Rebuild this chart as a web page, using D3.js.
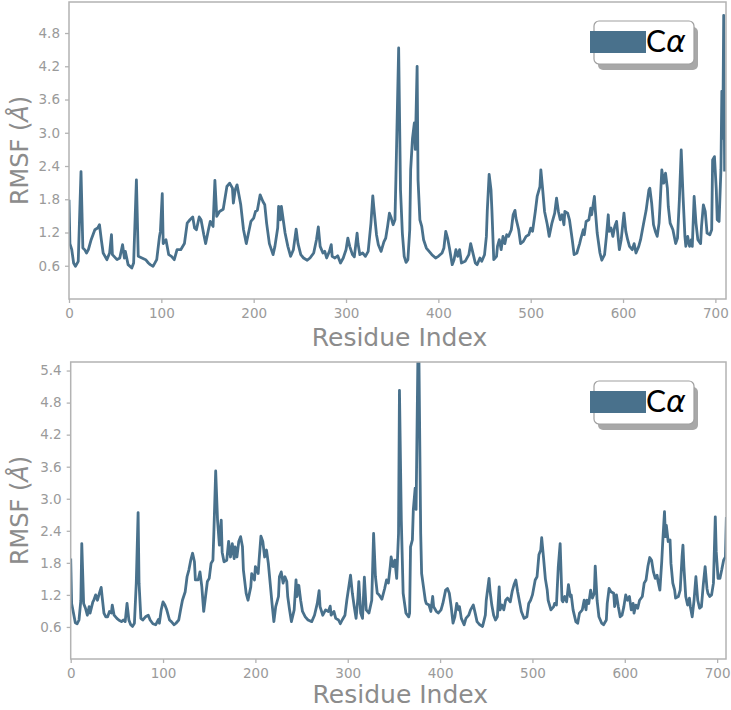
<!DOCTYPE html>
<html>
<head>
<meta charset="utf-8">
<script src="https://cdn.jsdelivr.net/npm/d3@7"></script>
<style>
  body { margin: 0; background: #fff; }
  text { font-family: "DejaVu Sans", sans-serif; }
</style>
</head>
<body>
<div id="chart"></div>
<script>
// top panel: residue index / RMSF (Å)
var topResidue = [0,1,3,5,7,10,13,15,17,19,21,24,28,31,33,35,37,41,44,46,47,52,55,58,60,61,64,68,70,73,75,79,83,86,88,91,95,98,99,101,102,105,108,111,114,117,121,125,128,131,134,136,138,141,143,146,148,151,153,156,158,160,163,167,171,174,177,178,180,182,184,186,189,192,194,197,200,202,204,207,210,212,214,217,221,223,226,227,229,230,232,234,237,240,243,246,248,251,254,258,261,265,268,270,272,275,277,279,282,284,285,288,291,294,297,300,302,304,307,309,312,313,315,318,321,324,327,329,330,333,335,338,341,343,345,347,349,351,353,354,357,359,361,363,365,367,369,370,372,374,375,377,378,380,382,384,387,390,393,397,400,404,406,408,410,412,415,417,419,421,423,425,429,433,435,437,440,442,445,447,450,452,453,455,457,458,460,463,464,466,468,470,472,474,476,479,481,483,484,487,489,492,495,498,500,502,505,507,510,511,513,515,518,520,523,526,528,530,532,534,536,537,540,542,545,547,550,553,554,557,558,560,563,565,566,569,570,572,575,577,580,582,584,585,587,589,591,593,596,598,601,603,605,607,610,612,614,617,619,622,625,628,629,631,633,635,637,639,640,642,644,646,648,649,651,654,657,659,661,663,665,667,668,670,672,674,675,677,679,681,684,685,687,689,691,694,696,697,699,701,702,704,706,707,708,709,710];
var topRmsf = [1.79,1.0,0.89,0.65,0.59,0.68,2.3,0.92,0.89,0.83,0.89,1.07,1.25,1.28,1.34,1.07,0.83,0.71,0.83,1.16,0.8,0.71,0.74,0.98,0.74,0.86,0.62,0.56,0.65,2.15,0.77,0.74,0.71,0.65,0.62,0.59,0.71,1.13,1.22,1.9,1.0,1.07,0.8,0.77,0.71,0.89,0.89,1.0,1.37,1.43,1.48,1.28,1.25,1.48,1.43,1.16,1.0,1.25,1.4,1.31,2.14,1.49,1.58,1.62,2.03,2.09,2.0,1.73,1.97,2.06,1.88,1.7,1.25,1.0,1.16,1.4,1.46,1.58,1.6,1.88,1.76,1.7,1.37,1.0,0.8,0.95,1.28,1.67,1.43,1.67,1.43,1.19,0.95,0.77,0.89,1.26,1.0,0.8,0.74,0.7,0.74,0.83,1.07,1.3,0.95,0.83,0.86,0.74,0.86,0.98,0.77,0.74,0.78,0.65,0.74,0.89,1.1,0.95,0.8,0.76,1.19,1.0,0.8,0.83,0.77,0.86,1.37,1.86,1.67,1.16,0.98,0.86,1.03,1.1,1.31,1.55,1.46,1.34,1.43,2.15,4.53,1.97,1.19,0.77,0.66,0.71,1.25,2.33,2.9,3.18,2.7,4.2,2.15,1.43,1.31,1.07,0.92,0.86,0.8,0.74,0.77,0.83,0.92,1.22,1.1,0.92,0.62,0.71,0.89,0.77,0.89,0.65,0.68,0.8,1.0,0.86,0.65,0.62,0.74,0.68,0.8,1.13,1.6,2.25,1.97,1.6,0.71,0.77,0.95,1.07,0.89,1.13,1.0,1.16,1.13,1.25,1.52,1.6,1.46,1.25,1.0,1.04,1.13,1.16,1.28,1.22,1.58,1.85,2.03,2.33,1.97,1.58,1.34,1.13,1.37,1.55,1.82,1.58,1.43,1.52,1.34,1.58,1.55,1.43,1.07,0.8,0.83,1.0,1.07,1.25,1.16,1.4,1.43,1.64,1.52,1.85,1.6,1.19,0.83,0.7,0.8,1.13,1.52,1.22,1.28,1.13,1.31,1.4,0.89,1.07,1.55,1.22,1.07,0.95,0.89,1.0,0.83,0.95,1.07,1.34,1.6,1.97,2.0,1.73,1.34,1.22,1.13,1.37,1.67,2.33,2.09,2.27,2.0,1.67,1.37,1.25,1.0,1.1,1.79,2.69,1.85,1.13,0.95,1.13,0.95,1.07,0.95,1.85,1.37,1.07,1.0,1.31,1.7,1.58,1.19,1.16,1.25,2.51,2.57,1.97,1.43,1.4,2.33,3.75,2.9,5.12,2.3];

// bottom panel
var bottomResidue = [0,1,3,5,7,9,11,12,14,16,18,20,21,24,25,27,29,31,33,34,36,38,40,42,44,45,47,50,52,55,57,59,61,63,65,67,69,71,73,74,76,78,81,84,86,89,92,95,96,98,100,102,104,107,109,112,114,117,119,121,124,126,128,130,132,134,135,138,140,142,144,146,148,150,152,154,155,157,159,161,163,164,166,169,171,173,175,177,178,180,182,184,186,187,190,192,195,196,199,200,203,204,206,208,210,212,214,216,218,220,222,225,226,228,230,232,234,235,237,239,242,244,245,247,249,251,254,257,261,264,267,269,270,273,276,279,281,282,285,287,290,292,294,297,299,302,303,305,307,309,311,312,314,316,318,320,323,326,328,330,332,334,337,340,342,344,346,347,349,351,353,355,356,358,360,363,366,367,368,370,371,373,374,376,377,379,380,382,384,385,388,390,392,393,396,398,401,403,406,408,410,412,414,416,418,420,421,423,426,428,431,433,436,438,440,443,446,449,450,453,454,456,458,460,462,464,465,467,469,471,473,476,478,480,482,484,486,488,491,494,496,498,500,503,505,507,509,510,512,514,516,517,520,523,524,526,528,530,532,533,535,537,539,541,542,544,547,549,551,554,556,558,559,561,563,565,567,568,570,572,575,577,580,581,583,585,588,589,591,593,595,597,599,601,603,605,607,609,610,612,614,616,619,621,623,625,627,629,631,633,635,636,638,640,641,643,644,645,647,649,650,652,654,655,658,660,662,663,664,666,668,670,671,673,675,677,679,681,683,685,687,689,690,692,694,696,698,699,701,703,705,707,709,710];
var bottomRmsf = [1.88,1.04,0.86,0.68,0.66,0.73,1.1,2.16,1.04,0.95,0.82,0.98,0.86,1.07,1.1,1.2,1.1,1.23,1.34,1.17,0.86,0.79,0.79,0.89,0.86,1.01,0.82,0.76,0.73,0.7,0.73,0.7,1.04,0.73,0.64,0.61,0.67,1.42,2.74,1.42,0.76,0.73,0.79,0.82,0.73,0.66,0.64,0.74,0.67,0.92,1.07,1.01,0.92,0.73,0.7,0.64,0.67,0.73,0.92,1.1,1.26,1.54,1.67,1.85,1.98,1.82,1.48,1.48,1.63,1.35,0.89,1.17,1.45,1.51,1.79,1.85,2.35,3.52,2.6,2.13,2.6,2.0,1.82,1.85,2.2,1.91,2.16,1.88,2.1,1.91,2.2,2.29,2.1,1.67,1.23,1.1,1.35,1.6,1.48,1.73,1.6,1.85,2.3,2.2,1.91,2.04,1.79,1.42,1.04,0.7,0.98,1.17,1.54,1.63,1.42,1.54,1.45,1.17,0.92,0.7,0.92,1.48,1.17,1.38,1.1,0.89,0.79,0.73,0.7,0.82,1.04,1.28,0.98,0.82,0.92,0.89,0.99,0.82,0.89,0.76,0.73,0.66,0.73,0.82,1.1,1.45,1.57,1.23,0.98,0.76,1.14,1.45,0.86,0.76,1.53,0.92,0.86,1.1,2.35,1.54,1.23,1.2,1.12,1.32,1.48,1.42,1.73,1.91,1.73,1.85,1.51,2.35,5.03,2.6,1.23,0.86,0.79,0.86,2.1,2.23,2.79,3.2,2.8,5.7,5.8,2.35,1.6,1.35,1.1,1.04,1.01,0.89,1.17,0.98,0.89,0.86,0.92,1.04,1.29,1.32,1.23,0.98,0.67,0.79,1.04,0.92,0.98,0.76,0.64,0.76,0.82,0.92,1.01,0.86,0.7,0.64,0.61,0.82,1.1,1.51,1.29,1.01,0.82,0.73,0.79,1.35,0.92,1.01,0.92,1.1,1.14,1.07,1.26,1.39,1.48,1.26,1.07,0.89,0.76,0.79,1.04,1.1,1.2,1.48,1.54,1.95,2.04,2.27,1.9,1.5,1.29,1.1,0.92,0.98,1.04,1.01,1.73,2.16,1.1,1.07,1.17,1.07,1.39,1.17,1.2,0.92,0.7,0.67,0.86,0.92,1.1,0.92,1.1,1.04,1.29,1.14,1.23,1.74,1.1,0.79,0.67,0.64,0.73,1.04,1.32,1.26,1.23,0.98,1.2,0.98,0.79,0.82,0.98,1.2,1.1,1.17,0.92,1.04,0.86,1.01,0.95,1.1,1.17,1.42,1.48,1.73,1.9,1.85,1.63,1.51,1.57,1.45,1.29,1.82,2.16,2.76,2.29,2.5,2.2,2.23,1.79,1.42,1.29,1.14,1.17,1.29,1.91,2.13,1.73,1.17,1.01,1.14,0.98,0.79,1.1,1.54,1.1,0.95,0.98,1.39,1.73,1.32,1.23,1.17,1.2,1.42,2.66,2.01,1.51,1.51,1.67,1.85,1.91,2.66];

var yTicks = [0.6, 1.2, 1.8, 2.4, 3.0, 3.6, 4.2, 4.8];
var yTicksBottom = [0.6, 1.2, 1.8, 2.4, 3.0, 3.6, 4.2, 4.8, 5.4];
var xTicks = [0, 100, 200, 300, 400, 500, 600, 700];

var lineColor = "#49718c";
var greyAxis = "#b3b3b3";
var greyText = "#9a9a9a";

var width = 731, height = 710;
var svg = d3.select("#chart").append("svg")
    .attr("width", width)
    .attr("height", height);

function drawPanel(id, residues, values, box, xMax, yMax, ticksY, labelGap) {
    var x = d3.scaleLinear().domain([0, xMax]).range([box.left, box.right]);
    var y = d3.scaleLinear().domain([0, yMax]).range([box.bottom, box.top]);

    var g = svg.append("g");

    g.append("clipPath").attr("id", "clip-" + id)
        .append("rect")
        .attr("x", box.left).attr("y", box.top)
        .attr("width", box.right - box.left)
        .attr("height", box.bottom - box.top);

    var line = d3.line()
        .x((d, i) => x(residues[i]))
        .y(d => y(d));

    g.append("path")
        .datum(values)
        .attr("clip-path", "url(#clip-" + id + ")")
        .attr("fill", "none")
        .attr("stroke", lineColor)
        .attr("stroke-width", 2.8)
        .attr("stroke-linejoin", "round")
        .attr("d", line);

    // axes
    var xAxis = g.append("g")
        .attr("transform", "translate(0," + box.bottom + ")")
        .call(d3.axisBottom(x).tickValues(xTicks).tickFormat(d3.format("d")).tickSize(4).tickPadding(5));
    var yAxis = g.append("g")
        .attr("transform", "translate(" + box.left + ",0)")
        .call(d3.axisLeft(y).tickValues(ticksY).tickFormat(d3.format(".1f")).tickSize(4).tickPadding(5));

    [xAxis, yAxis].forEach(function(a) {
        a.select(".domain").remove();
        a.selectAll("line").attr("stroke", greyAxis).attr("stroke-width", 1.3);
        a.selectAll("text")
            .attr("fill", greyText)
            .style("font-family", "DejaVu Sans")
            .style("font-size", "13.5px");
    });

    // frame
    g.append("rect")
        .attr("x", box.left).attr("y", box.top)
        .attr("width", box.right - box.left)
        .attr("height", box.bottom - box.top)
        .attr("fill", "none")
        .attr("stroke", greyAxis)
        .attr("stroke-width", 1.5);

    g.append("text")
        .attr("x", (box.left + box.right) / 2 + 2)
        .attr("y", box.bottom + labelGap)
        .attr("text-anchor", "middle")
        .attr("fill", "#8c8c8c")
        .style("font-size", "25px")
        .text("Residue Index");

    var yl = g.append("text")
        .attr("transform", "translate(28," + ((box.top + box.bottom) / 2) + ") rotate(-90)")
        .attr("text-anchor", "middle")
        .attr("fill", "#8c8c8c")
        .style("font-size", "24px");
    yl.append("tspan").text("RMSF (");
    yl.append("tspan").style("font-style", "italic").text("Å");
    yl.append("tspan").text(")");

    // legend
    var lx = box.right - 132, ly = box.top + 19;
    g.append("rect")
        .attr("x", lx + 4).attr("y", ly + 6)
        .attr("width", 100).attr("height", 43)
        .attr("rx", 5)
        .attr("fill", "#a8a8a8");
    g.append("rect")
        .attr("x", lx).attr("y", ly)
        .attr("width", 100).attr("height", 43)
        .attr("rx", 5)
        .attr("fill", "#fff")
        .attr("stroke", "#a0a0a0")
        .attr("stroke-width", 1.2);
    g.append("rect")
        .attr("x", lx - 4).attr("y", ly + 10)
        .attr("width", 56).attr("height", 22)
        .attr("fill", lineColor);
    var lt = g.append("text")
        .attr("x", lx + 52).attr("y", ly + 31)
        .attr("fill", "#000")
        .style("font-size", "30px");
    lt.append("tspan").style("font-family", "Lato").text("C");
    lt.append("tspan").style("font-family", "DejaVu Sans").style("font-style", "italic").text("α");
}

drawPanel("top", topResidue, topRmsf, {left: 69, right: 726, top: 2, bottom: 299}, 711.5, 5.36, yTicks, 47);
drawPanel("bottom", bottomResidue, bottomRmsf, {left: 70.7, right: 726, top: 362, bottom: 659}, 709.6, 5.56, yTicksBottom, 44);
</script>
</body>
</html>
